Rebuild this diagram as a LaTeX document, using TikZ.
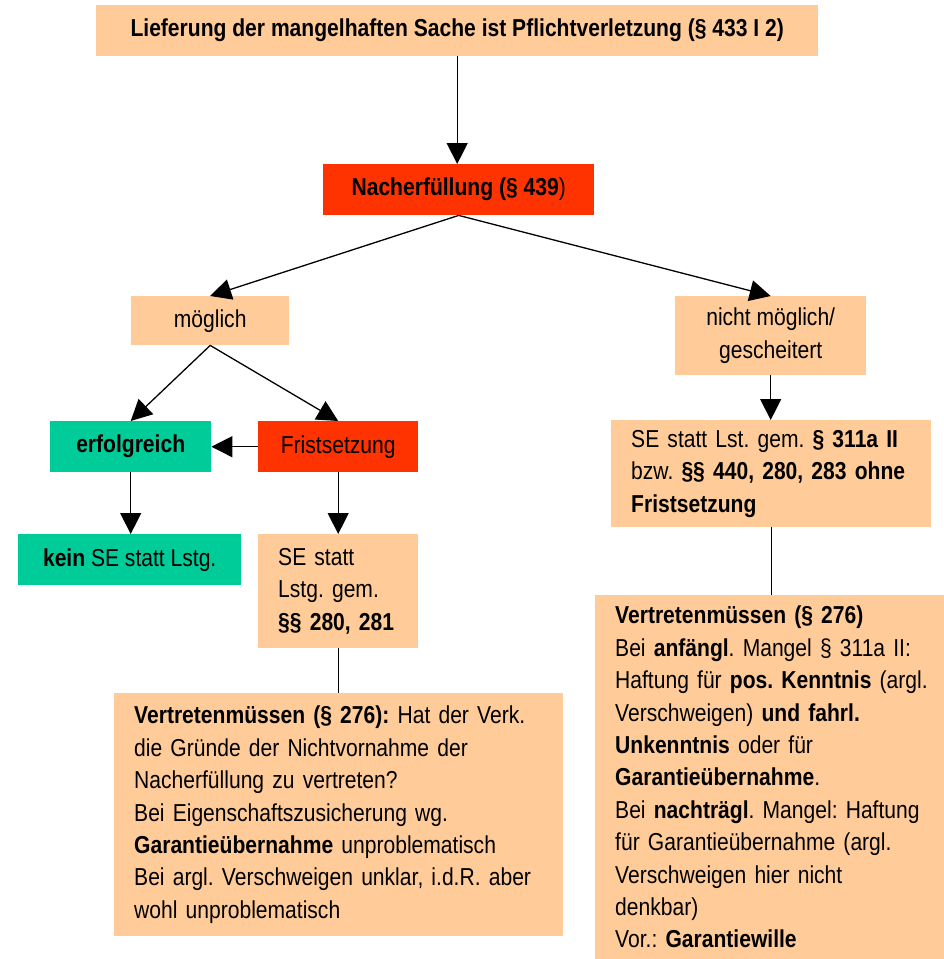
\documentclass[tikz,border=0pt]{standalone}
\usepackage{fontspec}
\setmainfont{Liberation Sans}[FakeStretch=0.86]
\usetikzlibrary{arrows.meta}
\definecolor{peach}{HTML}{FFCC99}
\definecolor{hred}{HTML}{FF3300}
\definecolor{teal2}{HTML}{00CC99}
\begin{document}
\frenchspacing
\begin{tikzpicture}[x=1pt,y=-1pt,
  box/.style={anchor=north west, inner sep=0pt, font=\fontsize{24.5}{32.4}\selectfont},
  pbox/.style={box, fill=peach},
  rbox/.style={box, fill=hred},
  gbox/.style={box, fill=teal2},
  lbox/.style={box, fill=peach, align=left, inner xsep=20pt},
  arr/.style={line width=1.3pt, -{Triangle[width=21pt,length=21pt]}},
  ln/.style={line width=1.3pt}]
\useasboundingbox (0,0) rectangle (944,959);

\node[pbox, minimum width=722pt, minimum height=51pt] (top) at (96,5)
  {\textbf{Lieferung der mangelhaften Sache ist Pflichtverletzung (§ 433 I 2)}};
\node[rbox, minimum width=271pt, minimum height=51pt] (nach) at (323,164)
  {\textbf{Nacherfüllung (§ 439})};
\node[pbox, minimum width=158pt, minimum height=49pt] (mog) at (131,296) {möglich};
\node[pbox, minimum width=191pt, minimum height=79pt, align=center] (nicht) at (675,296)
  {nicht möglich/\\gescheitert};
\node[gbox, minimum width=161pt, minimum height=51pt] (erf) at (50,421) {\textbf{erfolgreich}};
\node[rbox, minimum width=160pt, minimum height=51pt] (frist) at (258,421) {Fristsetzung};
\node[gbox, minimum width=223pt, minimum height=51pt] (kein) at (18,534) {\textbf{kein} SE statt Lstg.};
\node[lbox, text width=120pt, minimum height=114pt] (se1) at (258,534)
  {SE statt\\Lstg. gem.\\\textbf{§§ 280, 281}};
\node[lbox, text width=280pt, minimum height=107pt] (se2) at (611,420)
  {SE statt Lst. gem. \textbf{§ 311a II}\\bzw. \textbf{§§ 440, 280, 283 ohne}\\\textbf{Fristsetzung}};
\node[lbox, text width=409pt, minimum height=243pt] (v1) at (114,693)
  {\textbf{Vertretenmüssen (§ 276):} Hat der Verk.\\die Gründe der Nichtvornahme der\\Nacherfüllung zu vertreten?\\Bei Eigenschaftszusicherung wg.\\\textbf{Garantieübernahme} unproblematisch\\Bei argl. Verschweigen unklar, i.d.R. aber\\wohl unproblematisch};
\fill[peach] (595,595) rectangle (944,959);
\node[box, align=left, text width=320pt, inner xsep=20pt, minimum height=364pt] (v2) at (595,595)
  {\textbf{Vertretenmüssen (§ 276)}\\Bei \textbf{anfängl}. Mangel § 311a II:\\Haftung für \textbf{pos. Kenntnis} (argl.\\Verschweigen) \textbf{und fahrl.}\\\textbf{Unkenntnis} oder für\\\textbf{Garantieübernahme}.\\Bei \textbf{nachträgl}. Mangel: Haftung\\für Garantieübernahme (argl.\\Verschweigen hier nicht\\denkbar)\\Vor.: \textbf{Garantiewille}};
\coordinate (v2top) at (770,595);

\draw[arr] (top.south) -- (top.south |- nach.north);
\draw[arr] (nach.south) -- (mog.north);
\draw[arr] (nach.south) -- (nicht.north);
\draw[arr] (mog.south) -- (erf.north);
\draw[arr] (mog.south) -- (frist.north);
\draw[arr] (frist.west) -- (erf.east);
\draw[arr] (erf.south) -- (erf.south |- kein.north);
\draw[arr] (frist.south) -- (frist.south |- se1.north);
\draw[arr] (nicht.south) -- (nicht.south |- se2.north);
\draw[ln] (se1.south) -- (se1.south |- v1.north);
\draw[ln] (se2.south) -- (se2.south |- v2top);
\end{tikzpicture}
\end{document}
